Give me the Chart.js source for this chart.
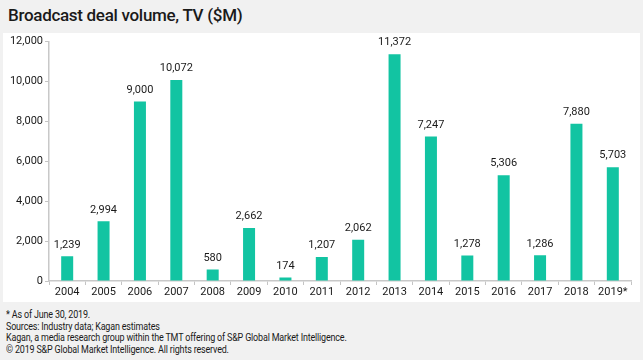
<!DOCTYPE html>
<html><head><meta charset="utf-8">
<script src="https://cdn.jsdelivr.net/npm/chart.js@4"></script>
<style>
html,body{margin:0;padding:0;}
body{width:643px;height:360px;background:#f1f1f1;position:relative;overflow:hidden;font-family:"Roboto",sans-serif;color:#1a1a1a;}
#title{position:absolute;left:8px;top:5px;font-family:"Roboto",sans-serif;font-weight:500;font-size:17px;color:#1a1a1a;letter-spacing:-0.3px;}
#panel{position:absolute;left:3px;top:33px;width:637px;height:269px;background:#fff;}
#foot{position:absolute;left:6px;top:309px;font-family:"Roboto",sans-serif;font-size:10.8px;line-height:11.6px;color:#1a1a1a;letter-spacing:-0.2px;transform:scaleX(0.83);transform-origin:0 0;white-space:nowrap;}
</style></head>
<body>
<div id="title">Broadcast deal volume, TV ($M)</div>
<div id="panel"><canvas id="c" width="637" height="269"></canvas></div>
<div id="foot">* As of June 30, 2019.<br>Sources: Industry data; Kagan estimates<br>Kagan, a media research group within the TMT offering of S&amp;P Global Market Intelligence.<br>© 2019 S&amp;P Global Market Intelligence. All rights reserved.</div>
<script>
const years = ["2004","2005","2006","2007","2008","2009","2010","2011","2012","2013","2014","2015","2016","2017","2018","2019*"];
const dealVolume = [1239,2994,9000,10072,580,2662,174,1207,2062,11372,7247,1278,5306,1286,7880,5703];
const yTicks = [0,2000,4000,6000,8000,10000,12000];

const labelPlugin = {
  id:'vals',
  afterDatasetsDraw(chart){
    const ctx = chart.ctx;
    const meta = chart.getDatasetMeta(0);
    ctx.save();
    ctx.font = '11px Roboto, sans-serif';
    ctx.fillStyle = '#1a1a1a';
    ctx.textAlign = 'center';
    ctx.textBaseline = 'bottom';
    meta.data.forEach((bar,i)=>{
      ctx.fillText(dealVolume[i].toLocaleString('en-US'), bar.x, bar.y - 6);
    });
    ctx.restore();
  }
};

new Chart(document.getElementById('c'),{
  type:'bar',
  data:{labels:years,datasets:[{data:dealVolume,backgroundColor:'#12c4a2',barPercentage:0.33,categoryPercentage:1}]},
  options:{
    responsive:false,animation:false,
    layout:{padding:{top:8,right:9,left:0,bottom:0}},
    plugins:{legend:{display:false},tooltip:{enabled:false}},
    scales:{
      x:{
        grid:{drawOnChartArea:false,offset:true,tickLength:4,color:'#c4c4c4'},
        border:{color:'#c8c8c8',width:1.5},
        ticks:{color:'#1a1a1a',font:{family:'Roboto',size:11},padding:1,maxRotation:0},
        afterFit(s){s.height=21;}
      },
      y:{
        min:0,max:12000,
        afterBuildTicks(s){s.ticks=yTicks.map(v=>({value:v}));},
        grid:{drawOnChartArea:false,tickLength:4,color:'#c4c4c4'},
        border:{color:'#c8c8c8',width:1.5},
        ticks:{color:'#1a1a1a',font:{family:'Roboto',size:11},padding:2,callback:v=>v.toLocaleString('en-US')},
        afterFit(s){s.width=46;}
      }
    }
  },
  plugins:[labelPlugin]
});
</script>
</body></html>
